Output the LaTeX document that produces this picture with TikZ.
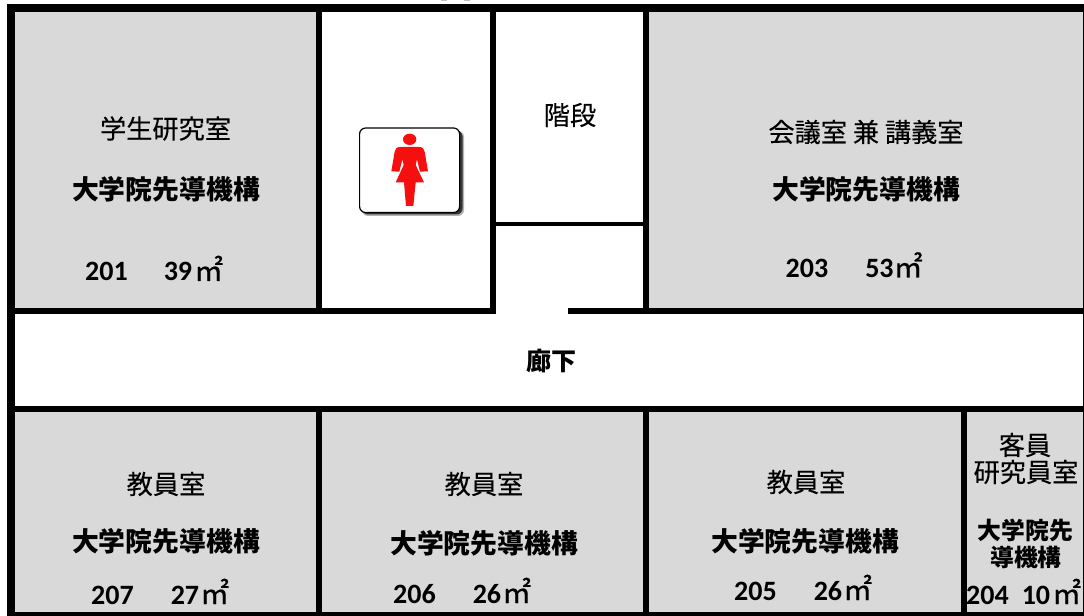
\documentclass[tikz,border=0pt]{standalone}
\usepackage{fontspec}
\setmainfont{Carlito}
\newfontfamily\cjk{Noto Sans CJK JP}
\newfontfamily\cjkheavy[FakeBold=0.6]{Noto Sans CJK JP}
\newfontfamily\cjkname[FakeBold=0.2]{Noto Sans CJK JP}
\definecolor{roomgray}{HTML}{D9D9D9}
\definecolor{signred}{HTML}{F50F0F}
\newcommand{\sqm}{{\cjkheavy\mdseries\fontsize{29bp}{30bp}\selectfont ㎡}}
\tikzset{
  wall/.style={fill=black,draw=none},
  room/.style={fill=roomgray,draw=none},
  roomname/.style={inner sep=0pt,text=black,font=\cjkname\fontsize{26.2bp}{29bp}\selectfont,align=center},
  owner/.style={inner sep=0pt,text=black,font=\cjk\bfseries\fontsize{26.8bp}{30bp}\selectfont},
  ownersmall/.style={inner sep=0pt,text=black,font=\cjk\bfseries\fontsize{23.8bp}{27bp}\selectfont},
  area/.style={inner sep=0pt,anchor=base west,text=black,font=\bfseries\fontsize{28bp}{30bp}\selectfont},
}
\begin{document}
\begin{tikzpicture}[x=1bp,y=-1bp]
\useasboundingbox (0,0) rectangle (1084,616);
\fill[white] (0,0) rectangle (1084,616);
% rooms
\fill[room] (15,12) rectangle (316,308);
\fill[room] (649,12) rectangle (1083,308);
\fill[room] (15,412) rectangle (316,612);
\fill[room] (322,412) rectangle (643,612);
\fill[room] (649,412) rectangle (961,612);
\fill[room] (967,412) rectangle (1083,612);
% outer walls
\fill[wall] (7,4) rectangle (1084,12);
\fill[wall] (7,4) rectangle (15,616);
\fill[wall] (7,612) rectangle (1084,616);
\fill[wall] (1083,4) rectangle (1084,616);
% inner walls
\fill[wall] (15,308) rectangle (496,314);
\fill[wall] (568,308) rectangle (1083,314);
\fill[wall] (15,406) rectangle (1083,412);
\fill[wall] (316,12) rectangle (322,314);
\fill[wall] (490,12) rectangle (496,314);
\fill[wall] (643,12) rectangle (649,314);
\fill[wall] (496,222) rectangle (643,226);
\fill[wall] (316,406) rectangle (322,612);
\fill[wall] (643,406) rectangle (649,612);
\fill[wall] (961,406) rectangle (967,612);
% clipped marks above the top wall
\fill[black!25] (441,0) rectangle (447,1);
\fill[black!25] (464,0) rectangle (470,1);
% sign
\fill[black!30,rounded corners=6bp] (362,131) rectangle (464,216);
\fill[black!80,rounded corners=6bp] (362,130.5) rectangle (462.5,214.5);
\draw[black,line width=1.2bp,fill=white,rounded corners=6bp] (359.6,128) rectangle (459.6,212.5);
\begin{scope}[shift={(320,0)},x=0.33333bp,y=-0.33333bp]
\fill[signred] (269,418) ellipse [x radius=20,y radius=17];
\fill[signred] (240,441) -- (298,441) .. controls (308,441) and (312,447) .. (314,455)
  -- (324,514) -- (300,515) -- (291,478) -- (287,495) -- (312,547) -- (287,547) -- (280,618)
  -- (258,618) -- (252,547) -- (227,547) -- (251,495) -- (247,478) -- (238,515) -- (214,514)
  -- (224,455) .. controls (226,447) and (230,441) .. (240,441) -- cycle;
\end{scope}
% labels
\node[roomname] (n201) at (165.5,128.5) {学生研究室};
\node[owner] (o201) at (166,189) {大学院先導機構};
\node[area] (a201) at (85,281) {201\hspace{36bp}39\hspace{2bp}\sqm};
\node[roomname] (stairs) at (570,115) {階段};
\node[roomname] (n203) at (866,132) {会議室 兼 講義室};
\node[owner] (o203) at (866,189) {大学院先導機構};
\node[area] (a203) at (785.5,277.5) {203\hspace{37bp}53\hspace{0bp}\sqm};
\node[owner,font=\cjk\bfseries\fontsize{25bp}{30bp}\selectfont] (hall) at (551.5,361) {廊下};
\node[roomname] (n207) at (166,484) {教員室};
\node[owner] (o207) at (166,541) {大学院先導機構};
\node[area] (a207) at (91,604) {207\hspace{37bp}27\hspace{1bp}\sqm};
\node[roomname] (n206) at (484,484) {教員室};
\node[owner] (o206) at (484,543) {大学院先導機構};
\node[area] (a206) at (393,603) {206\hspace{37bp}26\hspace{1bp}\sqm};
\node[roomname] (n205) at (806,482) {教員室};
\node[owner] (o205) at (805,541) {大学院先導機構};
\node[area] (a205) at (734,600) {205\hspace{37bp}26\hspace{1bp}\sqm};
\node[roomname] (n204a) at (1025,445) {客員};
\node[roomname] (n204b) at (1026,472) {研究員室};
\node[ownersmall] (o204a) at (1025.5,530) {大学院先};
\node[ownersmall] (o204b) at (1026,557) {導機構};
\node[area] (a204) at (966,604) {204\hspace{13bp}10\hspace{2bp}\sqm};
\end{tikzpicture}
\end{document}
